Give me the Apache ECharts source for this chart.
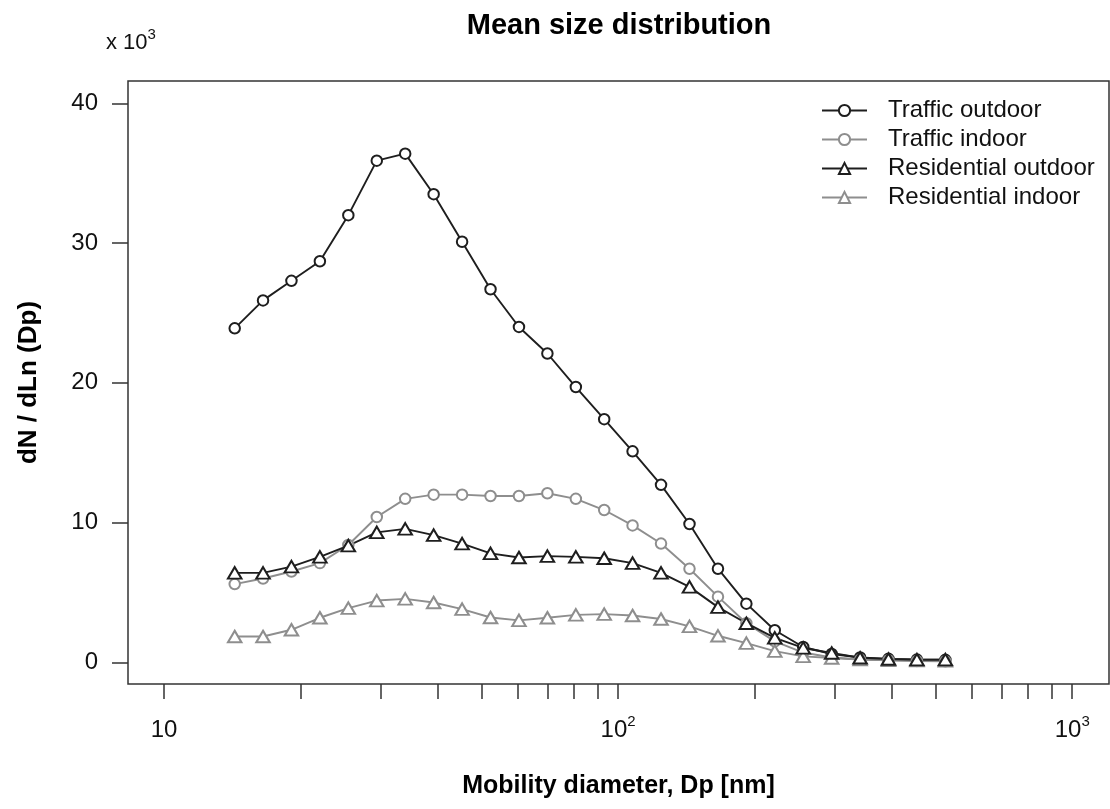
<!DOCTYPE html>
<html>
<head>
<meta charset="utf-8">
<script src="https://cdn.jsdelivr.net/npm/echarts@6/dist/echarts.min.js"></script>
<style>
  html, body { margin: 0; padding: 0; background: #ffffff; }
  #chart { width: 1110px; height: 809px; }
</style>
</head>
<body>
<div id="chart"></div>
<script>
// Mobility diameter (nm), channel midpoints
const diameters = [14.31, 16.52, 19.08, 22.04, 25.46, 29.41, 33.97, 39.24, 45.33, 52.36, 60.48, 69.86, 80.70,
  93.18, 107.6, 124.3, 143.6, 165.9, 191.6, 221.3, 255.6, 295.3, 341.1, 393.9, 455.0, 525.6];

// dN/dLn(Dp), x 10^3
const trafficOutdoor = [23.9, 25.9, 27.3, 28.7, 32.0, 35.9, 36.4, 33.5, 30.1, 26.7, 24.0, 22.1, 19.7,
  17.4, 15.1, 12.7, 9.9, 6.7, 4.2, 2.3, 1.1, 0.6, 0.35, 0.25, 0.2, 0.18];
const trafficIndoor = [5.6, 6.0, 6.5, 7.1, 8.4, 10.4, 11.7, 12.0, 12.0, 11.9, 11.9, 12.1, 11.7,
  10.9, 9.8, 8.5, 6.7, 4.7, 2.8, 1.5, 0.7, 0.35, 0.2, 0.15, 0.1, 0.08];
const residentialOutdoor = [6.4, 6.4, 6.85, 7.55, 8.35, 9.3, 9.55, 9.1, 8.5, 7.8, 7.5, 7.6, 7.55,
  7.45, 7.1, 6.4, 5.4, 3.95, 2.8, 1.75, 1.03, 0.67, 0.33, 0.24, 0.19, 0.19];
const residentialIndoor = [1.85, 1.85, 2.33, 3.19, 3.88, 4.42, 4.54, 4.28, 3.81, 3.21, 3.0, 3.19, 3.40,
  3.45, 3.35, 3.10, 2.57, 1.90, 1.38, 0.80, 0.43, 0.31, 0.2, 0.15, 0.12, 0.1];

const seriesNames = ['Traffic outdoor', 'Traffic indoor', 'Residential outdoor', 'Residential indoor'];

const xTickValues = [10, 20, 30, 40, 50, 60, 70, 80, 90, 100, 200, 300, 400, 500, 600, 700, 800, 900, 1000];
const xLabelValues = [10, 100, 1000];
const yTickValues = [0, 10, 20, 30, 40];

const BLACK = '#1e1e1e';
const GREY = '#8e8e8e';
const FONT = 'Liberation Sans';

function pairs(arr) { return diameters.map((d, i) => [d, arr[i]]); }

function makeSeries(name, arr, color, symbol, size, z) {
  return {
    name: name,
    type: 'line',
    data: pairs(arr),
    symbol: symbol,
    symbolSize: size,
    showAllSymbol: true,
    z: z,
    lineStyle: { color: color, width: 1.9 },
    itemStyle: { color: color, borderColor: color, borderWidth: 1.9 },
    emphasis: { disabled: true },
    animation: false
  };
}

const chart = echarts.init(document.getElementById('chart'), null, { renderer: 'canvas' });

chart.setOption({
  backgroundColor: '#ffffff',
  animation: false,
  textStyle: { fontFamily: FONT },
  title: [
    {
      text: 'Mean size distribution',
      left: 614, top: 6, textAlign: 'center',
      textStyle: { fontFamily: FONT, fontWeight: 'bold', fontSize: 29, color: '#000' }
    },
    {
      text: '{b|x 10}{sup|3}',
      left: 101, top: 22,
      textStyle: {
        fontFamily: FONT, fontWeight: 'normal', fontSize: 22, color: '#111',
        rich: {
          b: { fontFamily: FONT, fontSize: 22, color: '#111', lineHeight: 31 },
          sup: { fontFamily: FONT, fontSize: 15, color: '#111', verticalAlign: 'top', lineHeight: 15 }
        }
      }
    }
  ],
  legend: {
    orient: 'vertical',
    left: 821, top: 96,
    padding: 0,
    itemGap: 0,
    itemWidth: 45,
    itemHeight: 14,
    data: seriesNames,
    selectedMode: false,
    textStyle: { fontFamily: FONT, fontSize: 24, color: '#111', lineHeight: 29, padding: [0, 0, 0, 16] }
  },
  grid: {
    left: 128, right: 1, top: 81, bottom: 125,
    show: true,
    borderColor: '#333',
    borderWidth: 1.5,
    backgroundColor: 'transparent'
  },
  xAxis: {
    type: 'log',
    logBase: 10,
    min: 8.33,
    max: 1205,
    name: 'Mobility diameter, Dp [nm]',
    nameLocation: 'middle',
    nameGap: 90,
    nameTextStyle: { fontFamily: FONT, fontWeight: 'bold', fontSize: 25, color: '#000' },
    axisLine: { show: false, onZero: false },
    splitLine: { show: false },
    minorTick: { show: false },
    axisTick: {
      show: true, inside: false, length: 15,
      customValues: xTickValues,
      lineStyle: { color: '#333', width: 1.5 }
    },
    axisLabel: {
      margin: 30,
      customValues: xLabelValues,
      formatter: function (v) {
        const e = Math.round(Math.log10(v));
        return e === 1 ? '{b|10}' : '{b|10}{sup|' + e + '}';
      },
      rich: {
        b: { fontFamily: FONT, fontSize: 24, color: '#111', lineHeight: 32 },
        sup: { fontFamily: FONT, fontSize: 15, color: '#111', verticalAlign: 'top', lineHeight: 15 }
      }
    }
  },
  yAxis: {
    type: 'value',
    min: -1.55,
    max: 41.6,
    name: 'dN / dLn (Dp)',
    nameLocation: 'middle',
    nameRotate: 90,
    nameGap: 86,
    nameTextStyle: { fontFamily: FONT, fontWeight: 'bold', fontSize: 26, color: '#000' },
    axisLine: { show: false, onZero: false },
    splitLine: { show: false },
    axisTick: {
      show: true, inside: false, length: 16,
      customValues: yTickValues,
      lineStyle: { color: '#333', width: 1.5 }
    },
    axisLabel: {
      margin: 30,
      customValues: yTickValues,
      fontFamily: FONT, fontSize: 24, color: '#111'
    }
  },
  series: [
    makeSeries(seriesNames[0], trafficOutdoor, BLACK, 'emptyCircle', 10.5, 2),
    makeSeries(seriesNames[1], trafficIndoor, GREY, 'emptyCircle', 10.5, 2),
    makeSeries(seriesNames[3], residentialIndoor, GREY, 'emptyTriangle', [13.5, 11.5], 2),
    makeSeries(seriesNames[2], residentialOutdoor, BLACK, 'emptyTriangle', [13.5, 11.5], 2)
  ]
});
</script>
</body>
</html>
